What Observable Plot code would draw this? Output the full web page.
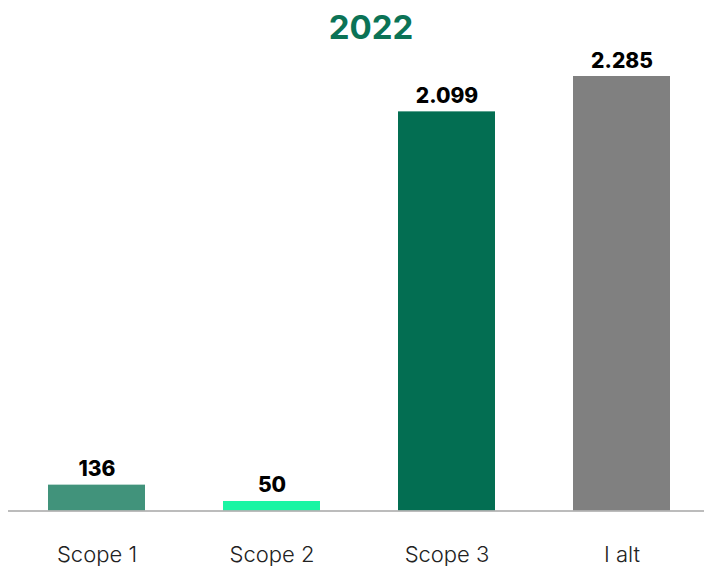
<!DOCTYPE html>
<html>
<head>
<meta charset="utf-8">
<script src="https://cdn.jsdelivr.net/npm/d3@7"></script>
<script src="https://cdn.jsdelivr.net/npm/@observablehq/plot@0.6"></script>
<style>
  html, body { margin: 0; padding: 0; background: #fff; }
  #wrap { position: relative; width: 704px; height: 566px; font-family: Inter, "Open Sans", sans-serif; }
  #title { position: absolute; top: 8px; left: 371px; transform: translateX(-50%); font-size: 33px; font-weight: 700; color: #0b7356; white-space: nowrap; line-height: 1.2; }
</style>
</head>
<body>
<div id="wrap"><div id="title">2022</div></div>
<script>
const categories = ["Scope 1", "Scope 2", "Scope 3", "I alt"];
const values = [136, 50, 2099, 2285];
const valueLabels = ["136", "50", "2.099", "2.285"];
const colors = ["#41937b", "#1af5a3", "#036e52", "#808080"];

const data = categories.map((c, i) => ({category: c, value: values[i], label: valueLabels[i]}));

const chart = Plot.plot({
  width: 704,
  height: 566,
  marginTop: 76,
  marginBottom: 55.5,
  marginLeft: 8,
  marginRight: 0,
  style: {fontFamily: "Inter, 'Open Sans', sans-serif", background: "transparent"},
  x: {domain: categories, paddingInner: 0.443, paddingOuter: 0.21, align: 0.548, label: null},
  y: {domain: [0, 2285], axis: null},
  color: {domain: categories, range: colors},
  marks: [
    Plot.barY(data, {x: "category", y: "value", fill: "category"}),
    Plot.ruleY([0], {stroke: "#a6a6a6", strokeWidth: 1.5}),
    Plot.text(data, {x: "category", y: "value", text: "label", dy: -9, lineAnchor: "bottom", fontWeight: 800, fontSize: 21, fill: "#000"}),
    Plot.axisX({tickSize: 0, tickPadding: 35, fontSize: 22, fontWeight: 300, color: "#222", label: null})
  ]
});
document.getElementById("wrap").appendChild(chart);
chart.style.position = "absolute";
chart.style.top = "0";
chart.style.left = "0";
document.getElementById("title").style.zIndex = 2;
</script>
</body>
</html>
